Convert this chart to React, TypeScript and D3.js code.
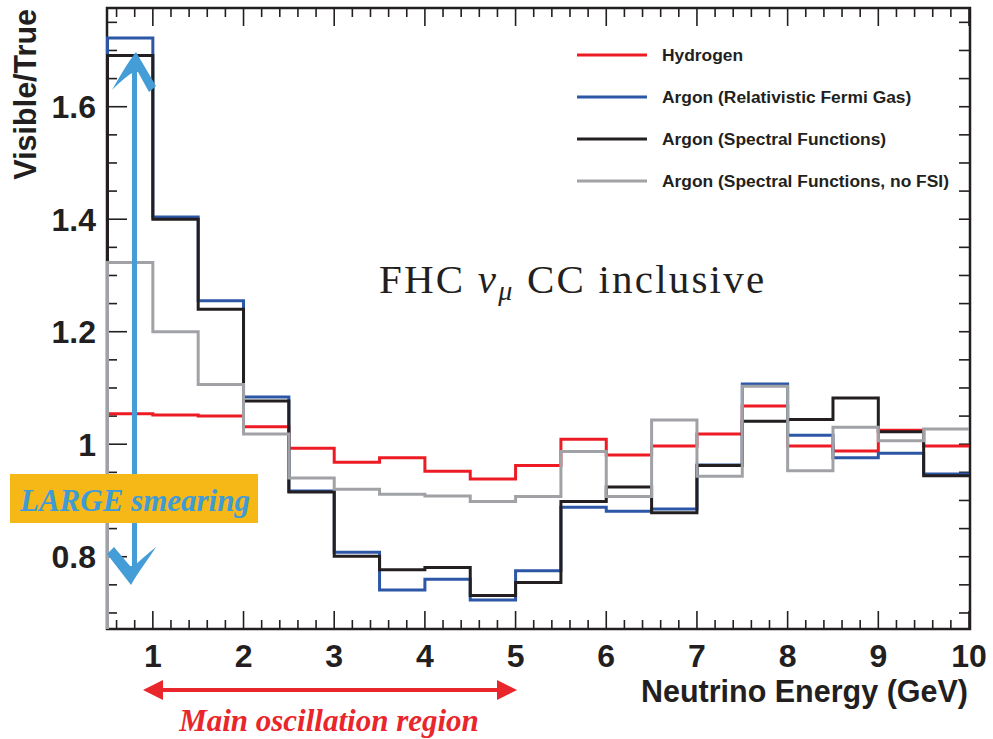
import React from 'react';
import * as d3 from 'd3';

// lower edge of each 0.5 GeV bin
const binStarts = [0.5, 1, 1.5, 2, 2.5, 3, 3.5, 4, 4.5, 5, 5.5, 6, 6.5, 7, 7.5, 8, 8.5, 9, 9.5];
const binWidth = 0.5;

const hydrogen = [1.054, 1.052, 1.05, 1.031, 0.993, 0.968, 0.976, 0.952, 0.938, 0.962, 1.009, 0.981, 0.997, 1.018, 1.068, 0.997, 0.988, 1.025, 0.997];
const argonRFG = [1.722, 1.404, 1.255, 1.084, 0.917, 0.808, 0.741, 0.76, 0.723, 0.775, 0.888, 0.881, 0.885, 0.963, 1.107, 1.016, 0.976, 0.984, 0.947];
const argonSF = [1.691, 1.4, 1.24, 1.077, 0.915, 0.801, 0.777, 0.781, 0.731, 0.754, 0.898, 0.924, 0.878, 0.962, 1.041, 1.044, 1.082, 1.022, 0.944];
const argonSFnoFSI = [1.323, 1.2, 1.106, 1.018, 0.94, 0.92, 0.911, 0.908, 0.898, 0.907, 0.987, 0.907, 1.043, 0.943, 1.103, 0.953, 1.03, 1.006, 1.027];

const seriesNames = [
  'Hydrogen',
  'Argon (Relativistic Fermi Gas)',
  'Argon (Spectral Functions)',
  'Argon (Spectral Functions, no FSI)',
];
const seriesColors = ['#ed1c24', '#2c56a6', '#231f20', '#a1a2a6'];

const xTickLabels = [1, 2, 3, 4, 5, 6, 7, 8, 9, 10];
const yTickLabels = [0.8, 1, 1.2, 1.4, 1.6];

const W = 993;
const H = 739;
const plot = { left: 107, right: 970, top: 8, bottom: 629 };

export default function App() {
  const x = d3.scaleLinear().domain([0.5, 10]).range([107.5, 969]);
  const y = d3.scaleLinear().domain([0.6715, 1.7755]).range([plot.bottom, plot.top]);

  const allSeries = [hydrogen, argonRFG, argonSF, argonSFnoFSI];

  const step = d3
    .line<[number, number]>()
    .x((d) => x(d[0]))
    .y((d) => y(d[1]))
    .curve(d3.curveStepAfter);

  const histPath = (vals: number[]) => {
    const pts: [number, number][] = [[binStarts[0], 0.5]];
    vals.forEach((v, i) => pts.push([binStarts[i], v]));
    pts.push([binStarts[binStarts.length - 1] + binWidth, vals[vals.length - 1]]);
    return step(pts) as string;
  };

  const xMinor = d3.range(0.6, 10.001, 0.2);
  const yMinor = d3.range(0.7, 1.7751, 0.05);

  const axisFont = "'Liberation Sans', Arial, sans-serif";
  const serif = "'Liberation Serif', 'Times New Roman', serif";
  const ink = '#231f20';

  return (
    <svg width={W} height={H} style={{ position: 'absolute', left: 0, top: 0, background: '#fff' }}>
      <defs>
        <clipPath id="plotClip">
          <rect x={104} y={plot.top} width={plot.right - 104} height={plot.bottom - plot.top} />
        </clipPath>
      </defs>

      {/* frame */}
      <rect
        x={plot.left}
        y={plot.top}
        width={plot.right - plot.left}
        height={plot.bottom - plot.top}
        fill="none"
        stroke={ink}
        strokeWidth={2.5}
      />

      {/* x ticks, bottom and top */}
      {xMinor.map((t, i) => {
        const major = Math.abs(t - Math.round(t)) < 1e-6;
        const len = major ? 18 : 9;
        return (
          <g key={'xt' + i} stroke={ink} strokeWidth={1.6}>
            <line x1={x(t)} x2={x(t)} y1={plot.bottom} y2={plot.bottom - len} />
            <line x1={x(t)} x2={x(t)} y1={plot.top} y2={plot.top + len} />
          </g>
        );
      })}

      {/* y ticks, left and right */}
      {yMinor.map((t, i) => {
        const major = Math.abs(t * 5 - Math.round(t * 5)) < 1e-6;
        const len = major ? 20 : 10;
        return (
          <g key={'yt' + i} stroke={ink} strokeWidth={1.6}>
            <line x1={plot.left} x2={plot.left + len} y1={y(t)} y2={y(t)} />
            <line x1={plot.right} x2={plot.right - 11} y1={y(t)} y2={y(t)} />
          </g>
        );
      })}

      {/* histograms */}
      <g clipPath="url(#plotClip)">
        {allSeries.map((vals, i) => (
          <path key={'h' + i} d={histPath(vals)} fill="none" stroke={seriesColors[i]} strokeWidth={3} />
        ))}
      </g>

      {/* tick labels */}
      {xTickLabels.map((t) => (
        <text
          key={'xl' + t}
          x={x(t)}
          y={667}
          textAnchor="middle"
          fontFamily={axisFont}
          fontWeight="bold"
          fontSize={32}
          fill={ink}
        >
          {t}
        </text>
      ))}
      {yTickLabels.map((t) => (
        <text
          key={'yl' + t}
          x={96}
          y={y(t) + 11.5}
          textAnchor="end"
          fontFamily={axisFont}
          fontWeight="bold"
          fontSize={32}
          fill={ink}
        >
          {String(t)}
        </text>
      ))}

      {/* axis titles */}
      <text
        x={968}
        y={702}
        textAnchor="end"
        fontFamily={axisFont}
        fontWeight="bold"
        fontSize={30.5}
        fill={ink}
      >
        Neutrino Energy (GeV)
      </text>
      <text
        transform="translate(36,9) rotate(-90)"
        textAnchor="end"
        fontFamily={axisFont}
        fontWeight="bold"
        fontSize={30.5}
        fill={ink}
      >
        Visible/True
      </text>

      {/* legend */}
      {seriesNames.map((name, i) => {
        const ly = 55 + i * 42;
        return (
          <g key={'lg' + i}>
            <line x1={577} x2={647} y1={ly} y2={ly} stroke={seriesColors[i]} strokeWidth={3} />
            <text x={662} y={ly + 6} fontFamily={axisFont} fontWeight="bold" fontSize={17.4} fill={ink}>
              {name}
            </text>
          </g>
        );
      })}

      {/* sample label */}
      <text x={379} y={293} fontFamily={serif} fontSize={41} letterSpacing={2.2} fill={ink}>
        FHC{' '}
        <tspan fontStyle="italic">ν</tspan>
        <tspan fontStyle="italic" fontSize={28} dy={7}>
          μ
        </tspan>
        <tspan dy={-7}> CC inclusive</tspan>
      </text>

      {/* smearing arrow */}
      <g fill="#449dd6">
        <line x1={134.5} x2={134.5} y1={70} y2={570} stroke="#449dd6" strokeWidth={5} />
        <path d="M136,52 C128,62 120,76 112,90 C121,81 128,75 134,72 L138,72 L149,92 L156,86 Z" />
        <path d="M131,585 L107,554 L114,547 L130,566 L134,566 C141,560 148,553 156,547 C148,560 138,572 131,585 Z" />
      </g>
      <rect x={10} y={474} width={248} height={49} fill="#f6b817" />
      <text
        x={20}
        y={511}
        fontFamily={serif}
        fontStyle="italic"
        fontWeight="bold"
        fontSize={31}
        fill="#3f9bd6"
      >
        LARGE smearing
      </text>

      {/* oscillation region arrow */}
      <g fill="#e8262b">
        <line x1={160} x2={500} y1={690} y2={690} stroke="#e8262b" strokeWidth={4} />
        <path d="M143,690 L163,680 L163,700 Z" />
        <path d="M517,690 L497,680 L497,700 Z" />
      </g>
      <text
        x={329}
        y={731}
        textAnchor="middle"
        fontFamily={serif}
        fontStyle="italic"
        fontWeight="bold"
        fontSize={31}
        fill="#e8262b"
      >
        Main oscillation region
      </text>
    </svg>
  );
}
